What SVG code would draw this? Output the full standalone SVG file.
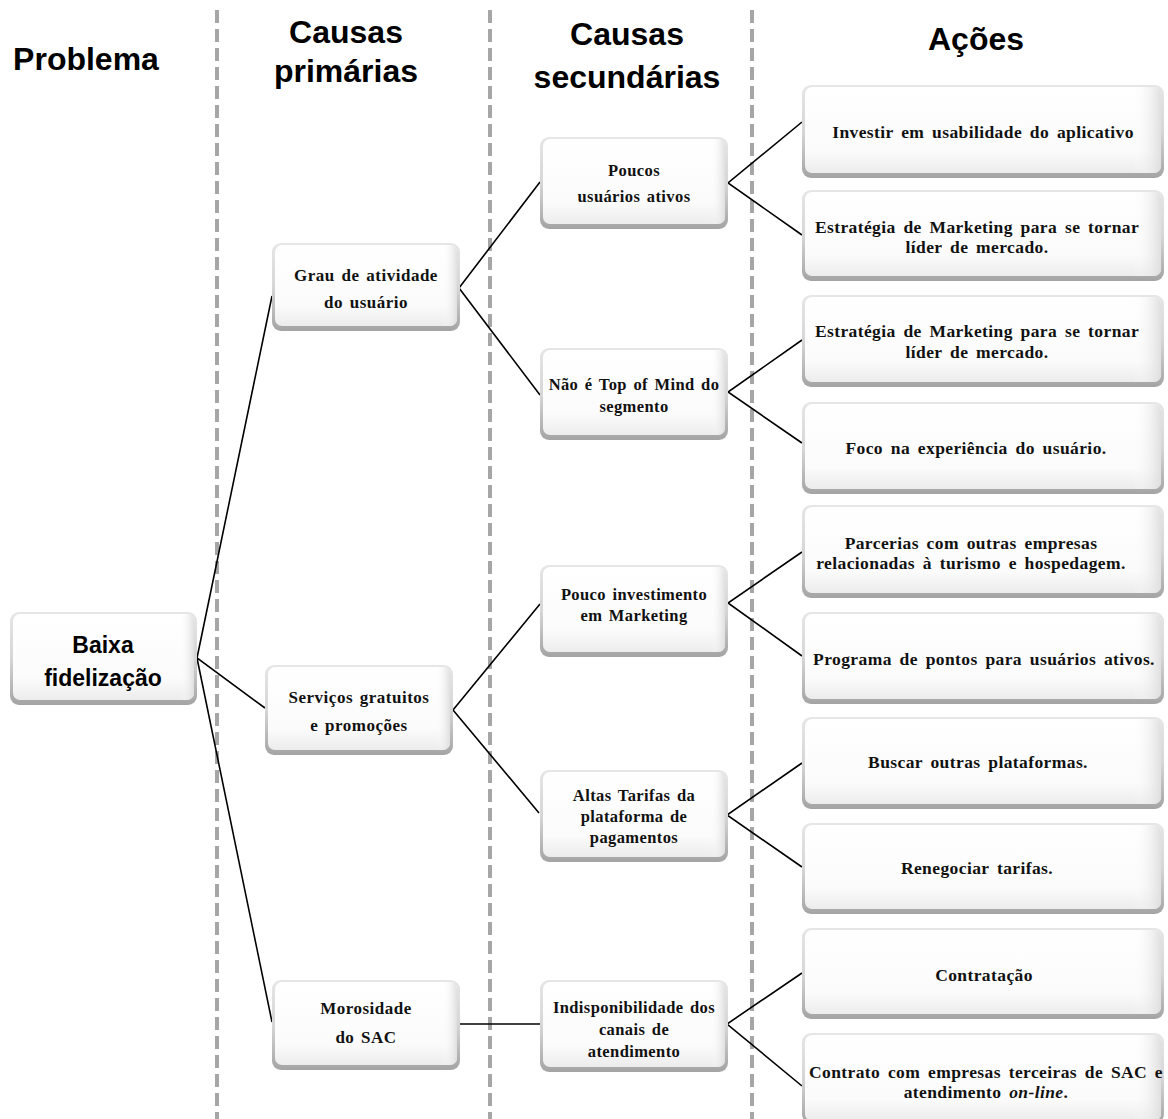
<svg xmlns="http://www.w3.org/2000/svg" width="1168" height="1119" viewBox="0 0 1168 1119">
<defs>
<linearGradient id="rim" x1="0" y1="0" x2="0" y2="1">
<stop offset="0" stop-color="#e6e6e6"/>
<stop offset="0.5" stop-color="#d6d6d6"/>
<stop offset="1" stop-color="#a4a4a4"/>
</linearGradient>
<linearGradient id="face" x1="0" y1="0" x2="0" y2="1">
<stop offset="0" stop-color="#ffffff"/>
<stop offset="0.75" stop-color="#fbfbfb"/>
<stop offset="1" stop-color="#ececec"/>
</linearGradient>
<linearGradient id="side" x1="0" y1="0" x2="1" y2="0">
<stop offset="0" stop-color="#ffffff" stop-opacity="0"/>
<stop offset="0.92" stop-color="#ffffff" stop-opacity="0"/>
<stop offset="1" stop-color="#dcdcdc" stop-opacity="0.9"/>
</linearGradient>
</defs>
<style>
.rim{fill:url(#rim)}
.face{fill:url(#face)}
.side{fill:url(#side)}
.hdr{font-family:"Liberation Sans",Arial,sans-serif;font-weight:bold;font-size:32px;fill:#000;text-anchor:middle}
.prob{font-family:"Liberation Sans",Arial,sans-serif;font-weight:bold;font-size:23px;fill:#000;text-anchor:middle}
.t{font-family:"Liberation Serif","Times New Roman",serif;font-weight:bold;font-size:16.5px;fill:#111;text-anchor:middle;letter-spacing:0.4px;word-spacing:2px}
.t2{font-family:"Liberation Serif","Times New Roman",serif;font-weight:bold;font-size:17px;fill:#111;text-anchor:middle;letter-spacing:0.5px;word-spacing:2px}
.ta{font-family:"Liberation Serif","Times New Roman",serif;font-weight:bold;font-size:17.5px;fill:#111;text-anchor:middle;letter-spacing:0.4px;word-spacing:3px}
.dash{stroke:#a6a6a6;stroke-width:4;stroke-dasharray:13 6;fill:none}
.con{stroke:#000;stroke-width:1.6;fill:none}
</style>
<rect width="1168" height="1119" fill="#fff"/>
<g id="guides">
<line class="dash" x1="217" y1="10" x2="217" y2="1119"/>
<line class="dash" x1="490" y1="10" x2="490" y2="1119"/>
<line class="dash" x1="752" y1="10" x2="752" y2="1119"/>
</g>
<g id="headers">
<text class="hdr" x="86" y="70">Problema</text>
<text class="hdr" x="346" y="43">Causas</text>
<text class="hdr" x="346" y="82">primárias</text>
<text class="hdr" x="627" y="45">Causas</text>
<text class="hdr" x="627" y="88">secundárias</text>
<text class="hdr" x="976" y="50">Ações</text>
</g>
<g id="connectors">
<polyline class="con" points="272,296 197,658 265,708"/>
<line class="con" x1="197" y1="658" x2="272" y2="1022"/>
<polyline class="con" points="540,182 459,288 540,395"/>
<polyline class="con" points="540,604 453,710 539,813"/>
<line class="con" x1="459" y1="1024" x2="540" y2="1024"/>
<polyline class="con" points="802,122 728,183 802,235"/>
<polyline class="con" points="802,340 728,392 802,443"/>
<polyline class="con" points="802,552 728,603 802,656"/>
<polyline class="con" points="802,763 727,815 802,867"/>
<polyline class="con" points="802,973 727,1024 802,1086"/>
</g>
<g id="n-baixa">
<rect class="rim" x="10" y="612" width="187" height="93" rx="9"/>
<rect class="face" x="13" y="614" width="181" height="86" rx="7"/>
<rect class="side" x="13" y="614" width="181" height="86" rx="7"/>
<text class="prob" x="103" y="653">Baixa</text>
<text class="prob" x="103" y="686">fidelização</text>
</g>
<g id="n-grau">
<rect class="rim" x="272" y="243" width="188" height="88" rx="9"/>
<rect class="face" x="275" y="245" width="182" height="81" rx="7"/>
<rect class="side" x="275" y="245" width="182" height="81" rx="7"/>
<text class="t2" x="366" y="281">Grau de atividade</text>
<text class="t2" x="366" y="308">do usuário</text>
</g>
<g id="n-servicos">
<rect class="rim" x="265" y="665" width="188" height="90" rx="9"/>
<rect class="face" x="268" y="667" width="182" height="83" rx="7"/>
<rect class="side" x="268" y="667" width="182" height="83" rx="7"/>
<text class="t2" x="359" y="703">Serviços gratuitos</text>
<text class="t2" x="359" y="731">e promoções</text>
</g>
<g id="n-morosidade">
<rect class="rim" x="272" y="980" width="188" height="90" rx="9"/>
<rect class="face" x="275" y="982" width="182" height="83" rx="7"/>
<rect class="side" x="275" y="982" width="182" height="83" rx="7"/>
<text class="t2" x="366" y="1014">Morosidade</text>
<text class="t2" x="366" y="1043">do SAC</text>
</g>
<g id="n-poucos">
<rect class="rim" x="540" y="137" width="188" height="92" rx="9"/>
<rect class="face" x="543" y="139" width="182" height="85" rx="7"/>
<rect class="side" x="543" y="139" width="182" height="85" rx="7"/>
<text class="t" x="634" y="176">Poucos</text>
<text class="t" x="634" y="202">usuários ativos</text>
</g>
<g id="n-naoe">
<rect class="rim" x="540" y="348" width="188" height="92" rx="9"/>
<rect class="face" x="543" y="350" width="182" height="85" rx="7"/>
<rect class="side" x="543" y="350" width="182" height="85" rx="7"/>
<text class="t" x="634" y="390">Não é Top of Mind do</text>
<text class="t" x="634" y="412">segmento</text>
</g>
<g id="n-pouco">
<rect class="rim" x="540" y="565" width="188" height="92" rx="9"/>
<rect class="face" x="543" y="567" width="182" height="85" rx="7"/>
<rect class="side" x="543" y="567" width="182" height="85" rx="7"/>
<text class="t" x="634" y="600">Pouco investimento</text>
<text class="t" x="634" y="621">em Marketing</text>
</g>
<g id="n-altas">
<rect class="rim" x="540" y="770" width="188" height="92" rx="9"/>
<rect class="face" x="543" y="772" width="182" height="85" rx="7"/>
<rect class="side" x="543" y="772" width="182" height="85" rx="7"/>
<text class="t" x="634" y="801">Altas Tarifas da</text>
<text class="t" x="634" y="822">plataforma de</text>
<text class="t" x="634" y="843">pagamentos</text>
</g>
<g id="n-indisp">
<rect class="rim" x="540" y="980" width="188" height="92" rx="9"/>
<rect class="face" x="543" y="982" width="182" height="85" rx="7"/>
<rect class="side" x="543" y="982" width="182" height="85" rx="7"/>
<text class="t" x="634" y="1013">Indisponibilidade dos</text>
<text class="t" x="634" y="1035">canais de</text>
<text class="t" x="634" y="1057">atendimento</text>
</g>
<g id="a1">
<rect class="rim" x="802" y="85" width="362" height="93" rx="9"/>
<rect class="face" x="805" y="87" width="356" height="86" rx="7"/>
<rect class="side" x="805" y="87" width="356" height="86" rx="7"/>
<text class="ta" x="983" y="138">Investir em usabilidade  do aplicativo</text>
</g>
<g id="a2">
<rect class="rim" x="802" y="190" width="362" height="91" rx="9"/>
<rect class="face" x="805" y="192" width="356" height="84" rx="7"/>
<rect class="side" x="805" y="192" width="356" height="84" rx="7"/>
<text class="ta" x="977" y="233">Estratégia de Marketing para se tornar</text>
<text class="ta" x="977" y="253">líder de mercado.</text>
</g>
<g id="a3">
<rect class="rim" x="802" y="295" width="362" height="92" rx="9"/>
<rect class="face" x="805" y="297" width="356" height="85" rx="7"/>
<rect class="side" x="805" y="297" width="356" height="85" rx="7"/>
<text class="ta" x="977" y="337">Estratégia de Marketing para se tornar</text>
<text class="ta" x="977" y="358">líder de mercado.</text>
</g>
<g id="a4">
<rect class="rim" x="802" y="402" width="362" height="92" rx="9"/>
<rect class="face" x="805" y="404" width="356" height="85" rx="7"/>
<rect class="side" x="805" y="404" width="356" height="85" rx="7"/>
<text class="ta" x="976" y="454">Foco na experiência do usuário.</text>
</g>
<g id="a5">
<rect class="rim" x="802" y="505" width="362" height="93" rx="9"/>
<rect class="face" x="805" y="507" width="356" height="86" rx="7"/>
<rect class="side" x="805" y="507" width="356" height="86" rx="7"/>
<text class="ta" x="971" y="549">Parcerias com outras empresas</text>
<text class="ta" x="971" y="569">relacionadas à turismo e hospedagem.</text>
</g>
<g id="a6">
<rect class="rim" x="802" y="612" width="362" height="92" rx="9"/>
<rect class="face" x="805" y="614" width="356" height="85" rx="7"/>
<rect class="side" x="805" y="614" width="356" height="85" rx="7"/>
<text class="ta" x="984" y="665">Programa de pontos para usuários ativos.</text>
</g>
<g id="a7">
<rect class="rim" x="802" y="717" width="362" height="92" rx="9"/>
<rect class="face" x="805" y="719" width="356" height="85" rx="7"/>
<rect class="side" x="805" y="719" width="356" height="85" rx="7"/>
<text class="ta" x="978" y="768">Buscar outras plataformas.</text>
</g>
<g id="a8">
<rect class="rim" x="802" y="823" width="362" height="91" rx="9"/>
<rect class="face" x="805" y="825" width="356" height="84" rx="7"/>
<rect class="side" x="805" y="825" width="356" height="84" rx="7"/>
<text class="ta" x="977" y="874">Renegociar tarifas.</text>
</g>
<g id="a9">
<rect class="rim" x="802" y="928" width="362" height="91" rx="9"/>
<rect class="face" x="805" y="930" width="356" height="84" rx="7"/>
<rect class="side" x="805" y="930" width="356" height="84" rx="7"/>
<text class="ta" x="984" y="981">Contratação</text>
</g>
<g id="a10">
<rect class="rim" x="802" y="1033" width="362" height="90" rx="9"/>
<rect class="face" x="805" y="1035" width="356" height="86" rx="7"/>
<rect class="side" x="805" y="1035" width="356" height="86" rx="7"/>
<text class="ta" x="986" y="1078">Contrato com empresas terceiras de SAC e</text>
<text class="ta" x="986" y="1098">atendimento <tspan font-style="italic">on-line</tspan>.</text>
</g>
</svg>
